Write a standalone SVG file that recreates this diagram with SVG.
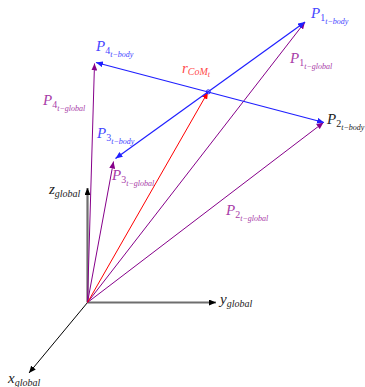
<svg xmlns="http://www.w3.org/2000/svg" width="365" height="387" viewBox="0 0 365 387">
<style>
text{font-family:"Liberation Serif","DejaVu Serif",serif;font-style:italic}
.m{font-size:15px}
.s1{font-size:10px;font-style:normal}
.s2{font-size:8px}
.sa{font-size:10px}
.cb{fill:#4646ff}
.cp{fill:#a83ca8}
.cr{fill:#ff4a4a}
.ck{fill:#222}
.lb{stroke:#1f1fff;stroke-width:1.2;fill:none}
.lp{stroke:#86008a;stroke-width:1;fill:none}
.lr{stroke:#ff0000;stroke-width:1;fill:none}
.ax{stroke:#6e6e6e;stroke-width:2.2;fill:none}
.axk{stroke:#000;stroke-width:1;fill:none}
</style>
<defs>
<marker id="ab" markerUnits="userSpaceOnUse" markerWidth="8" markerHeight="6" refX="7" refY="3" orient="auto-start-reverse"><path d="M0,0 L7,3 L0,6 z" fill="#1f1fff"/></marker>
<marker id="ap" markerUnits="userSpaceOnUse" markerWidth="8" markerHeight="6" refX="7" refY="3" orient="auto"><path d="M0,0 L7,3 L0,6 z" fill="#86008a"/></marker>
<marker id="ar" markerUnits="userSpaceOnUse" markerWidth="8" markerHeight="6" refX="7" refY="3" orient="auto"><path d="M0,0 L7,3 L0,6 z" fill="#ff0000"/></marker>
<marker id="ak" markerUnits="userSpaceOnUse" markerWidth="8" markerHeight="6" refX="7" refY="3" orient="auto"><path d="M0,0 L7,3 L0,6 z" fill="#000"/></marker>
</defs>
<g id="connectors">
<line id="z-axis" class="ax" x1="87.5" y1="302.5" x2="87.5" y2="188" marker-end="url(#ak)"/>
<line id="y-axis" class="ax" x1="87.5" y1="302.5" x2="216" y2="302.5" marker-end="url(#ak)"/>
<line id="x-axis" class="axk" x1="87.5" y1="302.5" x2="29" y2="373" marker-end="url(#ak)"/>
<line id="p4-global" class="lp" x1="87.5" y1="302.5" x2="94.5" y2="63.5" marker-end="url(#ap)"/>
<line id="p3-global" class="lp" x1="87.5" y1="302.5" x2="113.5" y2="161.5" marker-end="url(#ap)"/>
<line id="p1-global" class="lp" x1="87.5" y1="302.5" x2="305" y2="22" marker-end="url(#ap)"/>
<line id="p2-global" class="lp" x1="87.5" y1="302.5" x2="323.5" y2="122.5" marker-end="url(#ap)"/>
<line id="r-com" class="lr" x1="87.5" y1="302.5" x2="208" y2="92" marker-end="url(#ar)"/>
<line id="p3-p1" class="lb" x1="115.5" y1="158.5" x2="305" y2="22" marker-start="url(#ab)" marker-end="url(#ab)"/>
<line id="p4-p2" class="lb" x1="96" y1="62.5" x2="324" y2="122.5" marker-start="url(#ab)" marker-end="url(#ab)"/>
<circle id="com" cx="208.3" cy="91.8" r="2" fill="none" stroke="#1f1fff" stroke-width="1"/>
</g>
<g id="node-p4-body"><text x="96" y="51" class="cb"><tspan class="m">P</tspan><tspan class="s1" dy="3">4</tspan><tspan class="s2" dy="2.5">t−body</tspan></text></g>
<g id="node-p4-global"><text x="43" y="105" class="cp"><tspan class="m">P</tspan><tspan class="s1" dy="3">4</tspan><tspan class="s2" dy="2.5">t−global</tspan></text></g>
<g id="node-p3-body"><text x="97" y="138" class="cb"><tspan class="m">P</tspan><tspan class="s1" dy="3">3</tspan><tspan class="s2" dy="2.5">t−body</tspan></text></g>
<g id="node-p3-global"><text x="112" y="180" class="cp"><tspan class="m">P</tspan><tspan class="s1" dy="3">3</tspan><tspan class="s2" dy="2.5">t−global</tspan></text></g>
<g id="node-p1-body"><text x="311" y="18" class="cb"><tspan class="m">P</tspan><tspan class="s1" dy="3">1</tspan><tspan class="s2" dy="2.5">t−body</tspan></text></g>
<g id="node-p1-global"><text x="290" y="63" class="cp"><tspan class="m">P</tspan><tspan class="s1" dy="3">1</tspan><tspan class="s2" dy="2.5">t−global</tspan></text></g>
<g id="node-p2-body"><text x="327" y="124" class="ck"><tspan class="m">P</tspan><tspan class="s1" dy="3">2</tspan><tspan class="s2" dy="2.5">t−body</tspan></text></g>
<g id="node-p2-global"><text x="226" y="215" class="cp"><tspan class="m">P</tspan><tspan class="s1" dy="3">2</tspan><tspan class="s2" dy="2.5">t−global</tspan></text></g>
<g id="node-rcom"><text x="182" y="72.5" class="cr"><tspan class="m">r</tspan><tspan class="sa" dy="2.5">CoM</tspan><tspan class="s2" dy="2">t</tspan></text></g>
<g id="label-z"><text x="49" y="194" class="ck"><tspan class="m">z</tspan><tspan class="sa" dy="2.5">global</tspan></text></g>
<g id="label-y"><text x="220" y="304" class="ck"><tspan class="m">y</tspan><tspan class="sa" dy="2.5">global</tspan></text></g>
<g id="label-x"><text x="8" y="383" class="ck"><tspan class="m">x</tspan><tspan class="sa" dy="2.5">global</tspan></text></g>
</svg>
